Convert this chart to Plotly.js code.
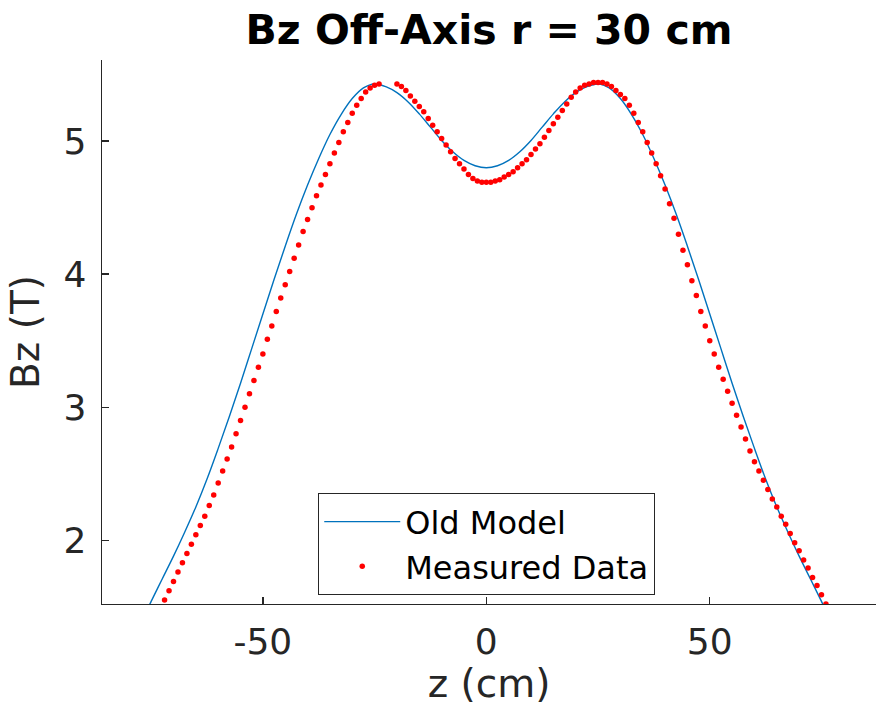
<!DOCTYPE html>
<html>
<head>
<meta charset="utf-8">
<script src="https://cdn.plot.ly/plotly-3.0.1.min.js"></script>
<style>html,body{margin:0;padding:0;background:#fff;}#chart{width:876px;height:709px;}</style>
</head>
<body>
<div id="chart"></div>
<script>
// Old Model (blue line)
var modelZ = [-76, -75, -72.5, -70, -67.5, -65, -62.5, -60, -57.5, -55, -52.5, -50, -47.5, -45, -42.5, -40, -37.5, -35, -32.5, -30, -27.5, -25, -22.5, -20, -17.5, -15, -12.5, -10, -7.5, -5, -2.5, 0,
              2.5, 5, 7.5, 10, 12.5, 15, 17.5, 20, 22.5, 25, 27.5, 30, 32.5, 35, 37.5, 40, 42.5, 45, 47.5, 50, 52.5, 55, 57.5, 60, 62.5, 65, 67.5, 70, 72.5, 75, 76];
var modelBz = [1.47, 1.54, 1.71, 1.88, 2.06, 2.25, 2.46, 2.69, 2.93, 3.18, 3.44, 3.70, 3.96, 4.21, 4.45, 4.67, 4.87, 5.05, 5.20, 5.32, 5.40, 5.43, 5.41, 5.365, 5.295, 5.205, 5.105, 5.005, 4.92, 4.855, 4.815, 4.80,
               4.815, 4.855, 4.92, 5.005, 5.105, 5.205, 5.295, 5.365, 5.41, 5.43, 5.40, 5.32, 5.20, 5.05, 4.87, 4.67, 4.45, 4.21, 3.96, 3.70, 3.44, 3.18, 2.93, 2.69, 2.46, 2.25, 2.06, 1.88, 1.71, 1.54, 1.47];

// Measured Data (red dots)
var measZ = [-73, -72, -71, -70, -69, -68, -67, -66, -65, -64, -63, -62, -61, -60, -59, -58, -57, -56, -55, -54, -53, -52, -51, -50, -49, -48, -47, -46, -45, -44, -43, -42, -41, -40, -39, -38, -37, -36, -35, -34, -33, -32, -31, -30, -29, -28, -27, -26, -25, -24,
             -20, -19, -18, -17, -16, -15, -14, -13, -12, -11, -10, -9, -8, -7, -6, -5, -4, -3, -2, -1, 0, 1, 2, 3, 4, 5, 6, 7, 8, 9, 10, 11, 12, 13, 14, 15, 16, 17, 18, 19, 20, 21, 22, 23, 24, 25, 26, 27, 28, 29, 30,
             31, 32, 33, 34, 35, 36, 37, 38, 39, 40, 41, 42, 43, 44, 45, 46, 47, 48, 49, 50, 51, 52, 53, 54, 55, 56, 57, 58, 59, 60, 61, 62, 63, 64, 65, 66, 67, 68, 69, 70, 71, 72, 73, 74, 75, 76];
var measBz = [1.48, 1.55, 1.62, 1.69, 1.76, 1.83, 1.90, 1.97, 2.04, 2.11, 2.18, 2.26, 2.34, 2.43, 2.52, 2.61, 2.70, 2.80, 2.90, 3.00, 3.10, 3.20, 3.30, 3.40, 3.51, 3.61, 3.72, 3.82, 3.92, 4.02, 4.12, 4.22, 4.32, 4.41, 4.50, 4.59, 4.67, 4.75, 4.83, 4.91, 4.99, 5.07, 5.14, 5.21, 5.27, 5.32, 5.37, 5.40, 5.42, 5.43,
              5.43, 5.41, 5.38, 5.34, 5.30, 5.26, 5.22, 5.17, 5.12, 5.07, 5.02, 4.97, 4.92, 4.87, 4.83, 4.79, 4.75, 4.72, 4.70, 4.69, 4.69, 4.69, 4.70, 4.71, 4.73, 4.75, 4.77, 4.80, 4.83, 4.86, 4.90, 4.94, 4.98, 5.03, 5.08, 5.13, 5.18, 5.23, 5.28, 5.33, 5.37, 5.40, 5.42, 5.43, 5.44, 5.44, 5.44, 5.43, 5.41, 5.38, 5.35,
              5.32, 5.27, 5.21, 5.14, 5.07, 4.99, 4.91, 4.83, 4.74, 4.64, 4.53, 4.42, 4.30, 4.18, 4.07, 3.95, 3.84, 3.72, 3.61, 3.50, 3.40, 3.30, 3.21, 3.12, 3.03, 2.94, 2.85, 2.76, 2.67, 2.59, 2.52, 2.45, 2.38, 2.31, 2.25, 2.18, 2.12, 2.05, 1.98, 1.92, 1.85, 1.79, 1.72, 1.66, 1.59, 1.52];

var xTicks = [-50, 0, 50];
var yTicks = [2, 3, 4, 5];

var FONT = 'DejaVu Sans, sans-serif';
var AX = '#262626';

var traces = [
  {x: modelZ, y: modelBz, mode: 'lines', name: 'Old Model', type: 'scatter',
   line: {color: '#0072BD', width: 1.4, shape: 'spline', smoothing: 1}},
  {x: measZ, y: measBz, mode: 'markers', name: 'Measured Data', type: 'scatter',
   marker: {color: '#FF0000', size: 5.5, line: {width: 0}}}
];

var layout = {
  width: 876, height: 709,
  margin: {l: 102, r: 0, t: 60, b: 105},
  paper_bgcolor: '#ffffff', plot_bgcolor: '#ffffff',
  font: {family: FONT, color: AX},
  title: {text: '<b>Bz Off-Axis r = 30 cm</b>', font: {family: FONT, size: 41, color: '#000000'},
          x: 0.5, xref: 'paper', xanchor: 'center', y: 1 - 30/709, yref: 'container', yanchor: 'middle'},
  xaxis: {range: [-86, 87.2], tickvals: xTicks, ticktext: xTicks.map(String), ticks: 'inside', ticklen: 7, tickwidth: 1.3, tickcolor: AX,
          showline: true, linecolor: AX, linewidth: 1.3, zeroline: false, showgrid: false, mirror: false,
          tickfont: {family: FONT, size: 36, color: AX}, ticklabelstandoff: 5,
          title: {text: 'z (cm)', font: {family: FONT, size: 39, color: AX}, standoff: 4}, automargin: false},
  yaxis: {range: [1.52, 5.61], tickvals: yTicks, ticktext: yTicks.map(String), ticks: 'inside', ticklen: 7, tickwidth: 1.3, tickcolor: AX,
          showline: true, linecolor: AX, linewidth: 1.3, zeroline: false, showgrid: false, mirror: false,
          tickfont: {family: FONT, size: 36, color: AX}, ticklabelstandoff: 7,
          title: {text: 'Bz (T)', font: {family: FONT, size: 39, color: AX}, standoff: 12}, automargin: false},
  showlegend: true,
  legend: {x: 0.279, y: 0.204, xanchor: 'left', yanchor: 'top', xref: 'paper', yref: 'paper',
           bgcolor: '#ffffff', bordercolor: AX, borderwidth: 1.3,
           font: {family: FONT, size: 32, color: '#000000'}, itemwidth: 76, tracegroupgap: 0}
};

Plotly.newPlot('chart', traces, layout, {displayModeBar: false, staticPlot: true});
</script>
</body>
</html>
